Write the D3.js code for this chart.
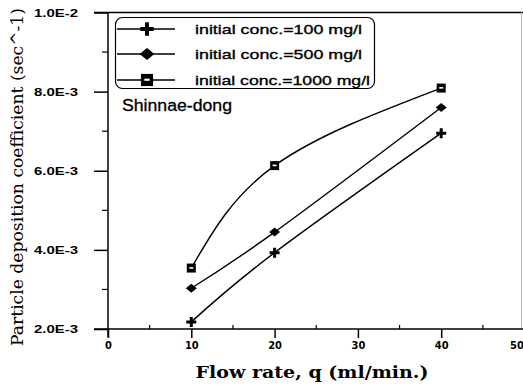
<!DOCTYPE html>
<html><head><meta charset="utf-8">
<script src="https://cdn.jsdelivr.net/npm/d3@7"></script>
<style>body{margin:0;background:#fff}svg{display:block}</style>
</head><body>
<svg id="c" width="523" height="385"></svg>
<script>
const flowRates = [10, 20, 40];
const conc100 = [2.18e-3, 3.93e-3, 6.95e-3];
const conc500 = [3.03e-3, 4.45e-3, 7.6e-3];
const conc1000 = [3.54e-3, 6.13e-3, 8.09e-3];
const seriesNames = ["initial conc.=100 mg/l", "initial conc.=500 mg/l", "initial conc.=1000 mg/l"];
const xTicks = [0, 10, 20, 30, 40, 50];
const yTicks = [2e-3, 4e-3, 6e-3, 8e-3, 1e-2];
const yTickLabels = ["2.0E-3", "4.0E-3", "6.0E-3", "8.0E-3", "1.0E-2"];

const svg = d3.select("#c");
const x = d3.scaleLinear().domain([0, 50]).range([108, 524.5]);
const y = d3.scaleLinear().domain([2e-3, 1e-2]).range([329, 12.5]);

// frame: top + right
svg.append("line").attr("x1", 94).attr("x2", 523).attr("y1", y(1e-2)).attr("y2", y(1e-2)).attr("stroke", "#000").attr("stroke-width", 1.5);
svg.append("line").attr("x1", 521.5).attr("x2", 521.5).attr("y1", y(1e-2)).attr("y2", y(2e-3)).attr("stroke", "#bbb").attr("stroke-width", 1);

// x axis
const xAxis = d3.axisBottom(x).tickValues(xTicks).tickSize(9).tickFormat(d3.format("d"));
const gx = svg.append("g").attr("transform", `translate(0,${y(2e-3)})`).call(xAxis);
gx.select(".domain").remove();
gx.selectAll(".tick line").attr("stroke-width", 1.5);
gx.selectAll("text").attr("font-family", "'Liberation Sans Narrow', 'DejaVu Sans Condensed', sans-serif")
  .attr("font-weight", "bold").attr("font-size", 11).attr("y", 12).attr("dy", "0.71em")
  .attr("dx", d => d === 50 ? -8 : 0);
svg.append("line").attr("x1", 94).attr("x2", 523).attr("y1", y(2e-3)).attr("y2", y(2e-3)).attr("stroke", "#000").attr("stroke-width", 1.5);
// x minor ticks (inward)
const xMinor = d3.range(5, 50, 10);
svg.append("g").selectAll("line").data(xMinor).join("line")
  .attr("x1", d => x(d)).attr("x2", d => x(d)).attr("y1", y(2e-3)).attr("y2", y(2e-3) - 4)
  .attr("stroke", "#000").attr("stroke-width", 1.2);

// y axis
const yAxis = d3.axisLeft(y).tickValues(yTicks).tickSize(14).tickFormat((d, i) => yTickLabels[i]);
const gy = svg.append("g").attr("transform", `translate(${x(0)},0)`).call(yAxis);
gy.select(".domain").remove();
gy.selectAll(".tick line").attr("stroke-width", 1.5);
gy.selectAll("text").attr("font-family", "'Liberation Sans', Arial, sans-serif").attr("font-weight", "bold")
  .attr("font-size", 11).attr("x", -30).attr("textLength", 44).attr("lengthAdjust", "spacingAndGlyphs");
svg.append("line").attr("x1", x(0)).attr("x2", x(0)).attr("y1", y(1e-2)).attr("y2", y(2e-3) + 8).attr("stroke", "#000").attr("stroke-width", 1.5);
const yMinor = [3e-3, 5e-3, 7e-3, 9e-3];
svg.append("g").selectAll("line").data(yMinor).join("line")
  .attr("x1", x(0) - 6).attr("x2", x(0)).attr("y1", d => y(d)).attr("y2", d => y(d))
  .attr("stroke", "#000").attr("stroke-width", 1.2);

// axis titles
svg.append("text").attr("x", 312).attr("y", 378).attr("text-anchor", "middle")
  .attr("font-family", "'DejaVu Serif', 'Liberation Serif', serif").attr("font-weight", "bold").attr("font-size", 17.5)
  .attr("textLength", 233).attr("lengthAdjust", "spacingAndGlyphs")
  .text("Flow rate, q  (ml/min.)");
svg.append("text").attr("transform", "translate(23,177) rotate(-90)").attr("text-anchor", "middle")
  .attr("font-family", "'DejaVu Serif', 'Liberation Serif', serif").attr("font-size", 16)
  .attr("textLength", 338).attr("lengthAdjust", "spacingAndGlyphs")
  .text("Particle deposition coefficient  (sec^-1)");

// curves
const line = d3.line().x(d => x(d[0])).y(d => y(d[1])).curve(d3.curveNatural);
const allSeries = [conc100, conc500, conc1000];
allSeries.forEach(s => {
  svg.append("path").datum(flowRates.map((f, i) => [f, s[i]])).attr("d", line)
    .attr("fill", "none").attr("stroke", "#000").attr("stroke-width", 1.4);
});

function marker(g, type, cx, cy, big) {
  const k = big ? 1.35 : 1;
  if (type === 0) {
    g.append("path").attr("d", `M${cx - 5 * k},${cy}H${cx + 5 * k}M${cx},${cy - 5 * k}V${cy + 5 * k}`)
      .attr("stroke", "#000").attr("stroke-width", 3 * k);
  } else if (type === 1) {
    g.append("path").attr("d", `M${cx - 5.5 * k},${cy}L${cx},${cy - 4.5 * k}L${cx + 5.5 * k},${cy}L${cx},${cy + 4.5 * k}Z`).attr("fill", "#000");
  } else {
    g.append("rect").attr("x", cx - 4.5 * k).attr("y", cy - 4.5 * k).attr("width", 9 * k).attr("height", 9 * k).attr("fill", "#000");
    g.append("rect").attr("x", cx - 2 * k).attr("y", cy - 1 * k).attr("width", 4 * k).attr("height", 1.6 * k).attr("fill", "#fff");
  }
}
const mg = svg.append("g");
allSeries.forEach((s, t) => {
  flowRates.forEach((f, i) => marker(mg, t, x(f), y(s[i]), false));
});

// legend
const lg = svg.append("g");
lg.append("rect").attr("x", 115.5).attr("y", 17.5).attr("width", 259).attr("height", 71).attr("rx", 7)
  .attr("fill", "#fff").attr("stroke", "#000").attr("stroke-width", 1.2);
const rowY = [29, 54, 80];
const textLens = [167, 167, 175];
seriesNames.forEach((n, i) => {
  lg.append("line").attr("x1", 117).attr("x2", 175).attr("y1", rowY[i]).attr("y2", rowY[i]).attr("stroke", "#000").attr("stroke-width", 1.3);
  marker(lg, i, 147, rowY[i], true);
  lg.append("text").attr("x", 195).attr("y", rowY[i] + 4.5).attr("font-family", "'Liberation Sans', Arial, sans-serif")
    .attr("font-size", 13.5).attr("stroke", "#000").attr("stroke-width", 0.35)
    .attr("textLength", textLens[i]).attr("lengthAdjust", "spacingAndGlyphs").text(n);
});

svg.append("text").attr("x", 122).attr("y", 111).attr("font-family", "'Liberation Sans', Arial, sans-serif")
  .attr("font-size", 16).attr("stroke", "#000").attr("stroke-width", 0.3)
  .attr("textLength", 110).attr("lengthAdjust", "spacingAndGlyphs").text("Shinnae-dong");
</script>
</body></html>
